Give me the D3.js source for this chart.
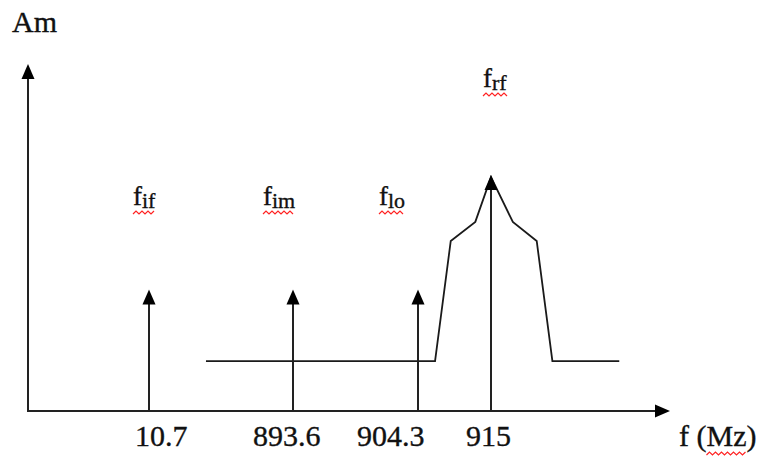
<!DOCTYPE html>
<html><head><meta charset="utf-8">
<script src="https://cdn.jsdelivr.net/npm/d3@7"></script>
<style>
html,body{margin:0;padding:0;background:#fff;}
</style></head>
<body><svg id="chart" width="763" height="457"></svg>
<script>
// ---- data ----
const freqs = [10.7, 893.6, 904.3, 915];              // impulse frequencies (MHz)
const tickLabels = ["10.7", "893.6", "904.3", "915"];
const impulseAmp = [35, 35, 35, 68];                   // arrow heights (arbitrary units)
const signalNames = ["if", "im", "lo", "rf"];          // subscripts of f
const bandFreq = [360, 906.8, 909.1, 912.7, 915, 918.2, 921.7, 924, 933.8];
const bandAmp  = [14.4, 14.4, 49, 54.5, 67.4, 54.5, 49, 14.4, 14.4];
const yLabel = "Am";
const xLabel = "f (Mz)";

// ---- layout ----
const axisX0 = 28, axisY0 = 411, axisXEnd = 670, axisYEnd = 64;
const FONT = "'Liberation Serif', 'DejaVu Serif', serif";
const svg = d3.select("#chart").attr("font-family", FONT);

// schematic (piecewise) frequency scale
const x = d3.scaleLinear().domain(freqs).range([149, 293, 418, 491]);
const y = d3.scaleLinear().domain([0, 100]).range([axisY0, axisYEnd]);

const headLen = 15, headHalf = 6.5;
function upHead(cx, tipY) {
  return `M${cx},${tipY}L${cx - headHalf},${tipY + headLen}L${cx + headHalf},${tipY + headLen}Z`;
}

// axes
svg.append("line").attr("x1", axisX0).attr("y1", axisY0).attr("x2", axisXEnd - 4).attr("y2", axisY0)
  .attr("stroke", "#222").attr("stroke-width", 2);
svg.append("line").attr("x1", axisX0).attr("y1", axisY0 + 1).attr("x2", axisX0).attr("y2", axisYEnd + 4)
  .attr("stroke", "#222").attr("stroke-width", 2);
svg.append("path").attr("d", upHead(axisX0, axisYEnd)).attr("fill", "#000");
svg.append("path")
  .attr("d", `M${axisXEnd},${axisY0}L${axisXEnd - headLen},${axisY0 - headHalf}L${axisXEnd - headLen},${axisY0 + headHalf}Z`)
  .attr("fill", "#000");

// band / noise floor polyline
const band = bandFreq.map((f, i) => [f, bandAmp[i]]);
svg.append("path").datum(band)
  .attr("d", d3.line().x(d => x(d[0])).y(d => y(d[1])))
  .attr("fill", "none").attr("stroke", "#1a1a1a").attr("stroke-width", 1.8);

// impulses
freqs.forEach((f, i) => {
  const cx = Math.round(x(f));
  svg.append("line").attr("x1", cx).attr("x2", cx).attr("y1", axisY0).attr("y2", y(impulseAmp[i]) + 4)
    .attr("stroke", "#222").attr("stroke-width", 2);
  svg.append("path").attr("d", upHead(cx, y(impulseAmp[i]))).attr("fill", "#000");
});

function styleText(sel, size) {
  return sel.attr("font-family", FONT).attr("font-size", size).attr("fill", "#111")
    .attr("stroke", "#111").attr("stroke-width", 0.35);
}

// tick labels
const tickDx = [-14, -40, -61, -25];
tickLabels.forEach((t, i) => {
  styleText(svg.append("text"), 30).attr("x", x(freqs[i]) + tickDx[i]).attr("y", 446).text(t);
});

// wavy underline helper
function squiggle(x0, x1, yy) {
  let d = `M${x0},${yy}`; let up = true;
  for (let xx = x0 + 3; xx <= x1 + 0.5; xx += 3) { d += `L${xx},${yy + (up ? -3 : 0)}`; up = !up; }
  svg.append("path").attr("d", d).attr("fill", "none").attr("stroke", "#f22").attr("stroke-width", 1.2);
}

// signal name labels f_xx
const nameDx = [-16, -30, -39, -8];
const nameY = [205, 205, 205, 87];
signalNames.forEach((s, i) => {
  const t = styleText(svg.append("text"), 27).attr("x", x(freqs[i]) + nameDx[i]).attr("y", nameY[i]);
  t.append("tspan").text("f");
  t.append("tspan").attr("font-size", 22).attr("dy", 3).text(s);
  const bb = t.node().getBBox();
  squiggle(bb.x, bb.x + bb.width, nameY[i] + 9);
});

// axis titles
styleText(svg.append("text"), 30).attr("x", 12).attr("y", 32).text(yLabel);
const xt = styleText(svg.append("text"), 30).attr("x", 679).attr("y", 446);
xt.append("tspan").text("f (");
const mz = xt.append("tspan").text("Mz");
xt.append("tspan").text(")");
const mb = mz.node().getBBox();
squiggle(mb.x, mb.x + mb.width, 455);
</script></body></html>
